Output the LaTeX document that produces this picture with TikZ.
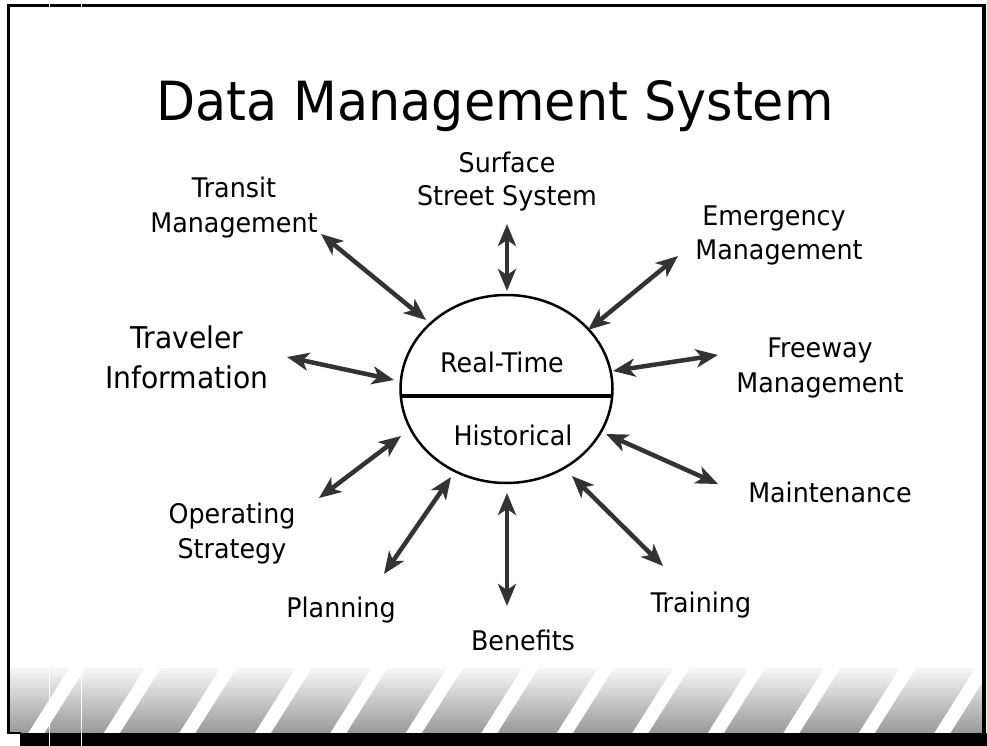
\documentclass[tikz,border=0pt]{standalone}
\usepackage{fontspec}
\setmainfont[FakeStretch=0.94]{DejaVu Sans}
\usetikzlibrary{arrows.meta,shapes.geometric,calc}
\begin{document}
\begin{tikzpicture}[x=1pt,y=-1pt,
  lbl/.style={anchor=base, inner sep=0pt, font=\fontsize{27}{33}\selectfont},
  biglbl/.style={anchor=base, inner sep=0pt, font=\fontsize{30}{36}\selectfont},
  dbl/.style={line width=4.5pt, draw=black!80,
    {Stealth[length=22pt,width=18pt,inset=6pt]}-{Stealth[length=22pt,width=18pt,inset=6pt]}},
  frameline/.style={line width=3pt, draw=black}]
\useasboundingbox (0,0) rectangle (987,746);
\fill[white] (0,0) rectangle (987,746);

% bottom hatched band
\shade[top color=gray!6, bottom color=gray!80] (10,668) rectangle (982,733);
\foreach \b in {28,103.5,179,254.5,330,405.5,481,556.5,632,707.5,783,858.5,934}{
  \fill[white] (\b,733.5) -- (\b+16,733.5) -- (\b+58,667) -- (\b+42,667) -- cycle;
}
\fill[white] (0,660) rectangle (987,668);

% frame
\draw[frameline] (7,5.5) -- (985,5.5);
\draw[frameline] (8.5,4) -- (8.5,734);
\draw[line width=4pt] (984,4) -- (984,734);
\draw[line width=2pt] (7.5,733) -- (21,733);
\fill[black] (20,733) rectangle (987,746);
\draw[white, line width=1pt] (49,0) -- (49,746);
\draw[white, line width=1pt] (81,0) -- (81,746);

% title
\node[anchor=base, inner sep=0pt, font=\fontsize{54}{60}\selectfont] (title) at (495,121) {Data Management System};

% central store
\node[ellipse, draw, line width=2.5pt, minimum width=212pt, minimum height=188pt, inner sep=0pt] (db) at (506.5,389) {};
\coordinate (dl) at (400.8,396);
\coordinate (dr) at (612.2,396);
\draw[line width=4pt] (dl) -- (dr);
\node[lbl] (rt) at (502,372) {Real-Time};
\node[lbl] (hist) at (513,445) {Historical};

% labels
\node[lbl] (ss1) at (507,172) {Surface};
\node[lbl] (ss2) at (507,205) {Street System};
\node[lbl] (tm1) at (234,197) {Transit};
\node[lbl] (tm2) at (234,232) {Management};
\node[lbl] (em1) at (774,225) {Emergency};
\node[lbl] (em2) at (779,259) {Management};
\node[biglbl] (ti1) at (187,348) {Traveler};
\node[biglbl] (ti2) at (187,388) {Information};
\node[lbl] (fm1) at (820,357) {Freeway};
\node[lbl] (fm2) at (820,392) {Management};
\node[lbl] (op1) at (232,523) {Operating};
\node[lbl] (op2) at (232,558) {Strategy};
\node[lbl] (ma) at (830,502) {Maintenance};
\node[lbl] (tr) at (701,612) {Training};
\node[lbl] (pl) at (341,617) {Planning};
\node[lbl] (be) at (523,650) {Benefits};

% arrow end points
\coordinate (ssA) at (507,224);  \coordinate (ssB) at (507,291);
\coordinate (tmA) at (321,234);  \coordinate (tmB) at (426,320);
\coordinate (emA) at (678,256);  \coordinate (emB) at (588,330);
\coordinate (tiA) at (287,357);  \coordinate (tiB) at (394,380);
\coordinate (fmA) at (718,355);  \coordinate (fmB) at (613,371);
\coordinate (maA) at (718,484);  \coordinate (maB) at (606,434);
\coordinate (opA) at (319,498);  \coordinate (opB) at (401,436);
\coordinate (plA) at (384,574);  \coordinate (plB) at (451,477);
\coordinate (beA) at (507,606);  \coordinate (beB) at (507,493);
\coordinate (trA) at (663,566);  \coordinate (trB) at (572,476);

\draw[dbl] (ssA) -- (ssB);
\draw[dbl] (tmA) -- (tmB);
\draw[dbl] (emA) -- (emB);
\draw[dbl] (tiA) -- (tiB);
\draw[dbl] (fmA) -- (fmB);
\draw[dbl] (maA) -- (maB);
\draw[dbl] (opA) -- (opB);
\draw[dbl] (plA) -- (plB);
\draw[dbl] (beA) -- (beB);
\draw[dbl] (trA) -- (trB);
\end{tikzpicture}
\end{document}
